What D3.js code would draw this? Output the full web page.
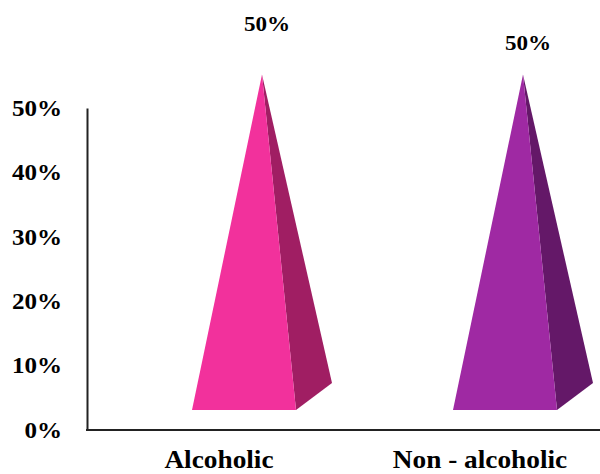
<!DOCTYPE html>
<html>
<head>
<meta charset="utf-8">
<script src="https://cdn.jsdelivr.net/npm/d3@7"></script>
<style>
  html, body { margin: 0; padding: 0; background: #fff; }
  svg { display: block; }
  text { font-family: "Liberation Serif", "Times New Roman", serif; font-weight: bold; fill: #000; }
</style>
</head>
<body>
<svg id="chart" width="600" height="474"></svg>
<script>
const categories = ["Alcoholic", "Non - alcoholic"];
const values = [0.5, 0.5];
const tickValues = [0, 0.1, 0.2, 0.3, 0.4, 0.5];
const valueLabels = ["50%", "50%"];
const frontColors = ["#F2319C", "#9F29A3"];
const sideColors = ["#A01E63", "#641868"];

const svg = d3.select("#chart");

const y = d3.scaleLinear().domain([0, 0.5]).range([430, 108]);
const x = d3.scalePoint().domain(categories).range([262, 523]);

const depthX = 36, depthY = -27;   // 3D depth offset of base
const baseLift = 33.5;             // base center lift above floor
const halfW = 52;                  // half width of the base front edge

function stretch(sel, k) {
  sel.each(function () {
    const len = this.getComputedTextLength();
    d3.select(this).attr("textLength", len * k).attr("lengthAdjust", "spacingAndGlyphs");
  });
}

// axes
const yAxis = d3.axisLeft(y).tickValues(tickValues).tickFormat(d3.format(".0%"))
  .tickSize(0).tickPadding(25);
const gy = svg.append("g").attr("transform", "translate(87,0)").call(yAxis);
gy.select(".domain").attr("stroke", "#222").attr("stroke-width", 2);
gy.selectAll(".tick text").attr("font-size", 23).attr("font-family", "Liberation Serif, serif")
  .attr("font-weight", "bold").attr("fill", "#000").call(stretch, 1.09);

svg.append("line")
  .attr("x1", 86).attr("x2", 600)
  .attr("y1", y(0)).attr("y2", y(0))
  .attr("stroke", "#222").attr("stroke-width", 2);

// pyramids
const data = categories.map((c, i) => ({ c, v: values[i], i }));
const g = svg.append("g");
data.forEach(d => {
  const cx = x(d.c);
  const baseCY = y(0) - baseLift;
  const apexY = baseCY - (y(0) - y(d.v));
  const fcx = cx - depthX / 2, fy = baseCY - depthY / 2;
  const fl = [fcx - halfW, fy], fr = [fcx + halfW, fy];
  const br = [fr[0] + depthX, fr[1] + depthY];
  const apex = [cx, apexY];
  g.append("path")
    .attr("d", d3.line()([apex, fr, br]) + "Z")
    .attr("fill", sideColors[d.i]);
  g.append("path")
    .attr("d", d3.line()([apex, fl, fr]) + "Z")
    .attr("fill", frontColors[d.i]);
});

// value labels
const labelY = [31, 50];
svg.selectAll(".vlabel").data(data).enter().append("text")
  .attr("class", "vlabel")
  .attr("x", d => x(d.c) + 5)
  .attr("y", d => labelY[d.i])
  .attr("text-anchor", "middle")
  .attr("font-size", 22)
  .text(d => valueLabels[d.i])
  .call(stretch, 1.05);

// category labels
svg.selectAll(".clabel").data(data).enter().append("text")
  .attr("class", "clabel")
  .attr("x", d => x(d.c) - 43)
  .attr("y", 468)
  .attr("text-anchor", "middle")
  .attr("font-size", 26)
  .text(d => d.c)
  .call(stretch, 1.05);
</script>
</body>
</html>
